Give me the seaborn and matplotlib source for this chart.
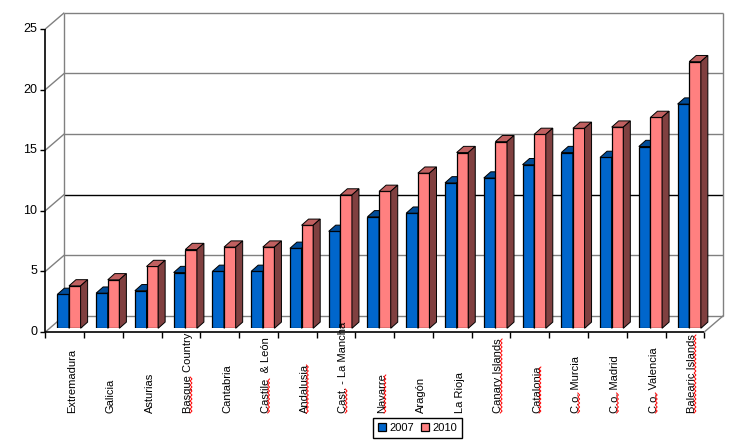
import numpy as np
import pandas as pd
import seaborn as sns
import matplotlib.pyplot as plt
from matplotlib.patches import Polygon, Patch
from matplotlib.lines import Line2D
from matplotlib.transforms import IdentityTransform, blended_transform_factory

regions = ['Extremadura', 'Galicia', 'Asturias', 'Basque Country', 'Cantabria',
           'Castile  & León', 'Andalusia', 'Cast. - La Mancha', 'Navarre', 'Aragón',
           'La Rioja', 'Canary Islands', 'Catalonia', 'C.o. Murcia', 'C.o. Madrid',
           'C.o. Valencia', 'Balearic Islands']
v2007 = [2.8, 2.9, 3.1, 4.6, 4.7, 4.7, 6.6, 8.0, 9.2, 9.5, 12.0, 12.4, 13.5, 14.5, 14.1, 15.0, 18.5]
v2010 = [3.5, 4.0, 5.1, 6.5, 6.7, 6.7, 8.5, 11.0, 11.3, 12.8, 14.5, 15.4, 16.0, 16.5, 16.6, 17.4, 22.0]
years = ['2007', '2010']
yticks = [0, 5, 10, 15, 20, 25]
# words with the red spell-check squiggle in the original
flagged = {'Basque Country': 'Basque', 'Castile  & León': 'Castile', 'Andalusia': 'Andalusia',
           'Cast. - La Mancha': 'Cast.', 'Navarre': 'Navarre', 'Canary Islands': 'Canary Islands',
           'Catalonia': 'Catalonia', 'C.o. Murcia': 'C.o.', 'C.o. Madrid': 'C.o.',
           'C.o. Valencia': 'C.o.', 'Balearic Islands': 'Balearic Islands'}

front_col = {'2007': '#0066CC', '2010': '#FF8080'}
top_col = {'2007': '#004C99', '2010': '#C06060'}
side_col = {'2007': '#003366', '2010': '#804040'}

df = pd.DataFrame({
    'region': regions * 2,
    'year': [years[0]] * len(regions) + [years[1]] * len(regions),
    'value': v2007 + v2010,
})

plt.rcParams['font.family'] = ['Liberation Sans', 'DejaVu Sans']

W, H = 756, 447
fig = plt.figure(figsize=(W / 100, H / 100), dpi=100)
# axes = front plane of the bars
ax = fig.add_axes([49.6 / W, (H - 328.3) / H, 659 / W, 303 / H])

sns.barplot(data=df, x='region', y='value', hue='year', hue_order=years,
            palette=front_col, width=0.6, saturation=1, edgecolor='black',
            linewidth=0.9, legend=False, ax=ax)
n = len(regions)
ax.set_xlim(-0.5, n - 0.5)
ax.set_ylim(0, 25)
ax.axis('off')

# pixel -> data scale
px = n / 659
py = 25 / 303
dx_back, dy_back = 14.7 * px, 12.6 * py      # bar plane -> back wall
dx_front, dy_front = -4.3 * px, -3.7 * py    # bar plane -> front axis
ddx, ddy = 7.0 * px, 6.2 * py                # bar depth

grey = '#808080'
lkw = dict(clip_on=False, zorder=1, solid_capstyle='butt')

# back wall and grid
for v in yticks:
    ax.plot([-0.5 + dx_back, n - 0.5 + dx_back], [v + dy_back] * 2,
            color='black' if v == 10 else grey, lw=1, **lkw)
    # left wall diagonals
    ax.plot([-0.5 + dx_front, -0.5 + dx_back], [v + dy_front, v + dy_back], color=grey, lw=1, **lkw)
    # y ticks and labels
    ax.plot([-0.5 + dx_front - 5 * px, -0.5 + dx_front], [v + dy_front] * 2, color='black', lw=1, **lkw)
    ax.text(-0.5 + dx_front - 8 * px, v + dy_front, str(v), ha='right', va='center', fontsize=9)
for xe in [-0.5, n - 0.5]:
    ax.plot([xe + dx_back] * 2, [dy_back, 25 + dy_back], color=grey, lw=1, **lkw)
# floor right diagonal
ax.plot([n - 0.5 + dx_front, n - 0.5 + dx_back], [dy_front, dy_back], color=grey, lw=1, **lkw)
# front axes
ax.plot([-0.5 + dx_front] * 2, [dy_front, 25 + dy_front], color='black', lw=1.2, **lkw)
ax.plot([-0.5 + dx_front, n - 0.5 + dx_front], [dy_front] * 2, color='black', lw=1.2, **lkw)
for k in range(n + 1):
    ax.plot([k - 0.5 + dx_front] * 2, [dy_front, dy_front - 5.5 * py], color='black', lw=1, **lkw)

# 3D faces for the bars
for j, (year, cont) in enumerate(zip(years, ax.containers)):
    for rect in cont:
        rect.set_zorder(2 + j)
        x0, w, h = rect.get_x(), rect.get_width(), rect.get_height()
        top = [(x0, h), (x0 + w, h), (x0 + w + ddx, h + ddy), (x0 + ddx, h + ddy)]
        side = [(x0 + w, 0), (x0 + w + ddx, ddy), (x0 + w + ddx, h + ddy), (x0 + w, h)]
        ax.add_patch(Polygon(top, closed=True, facecolor=top_col[year], edgecolor='black',
                             lw=0.7, zorder=2.5 + j, clip_on=False))
        ax.add_patch(Polygon(side, closed=True, facecolor=side_col[year], edgecolor='black',
                             lw=0.7, zorder=2.5 + j, clip_on=False))

# category labels
lab_fs = 8
tr = blended_transform_factory(ax.transData, fig.transFigure)
label_texts = []
for i, lab in enumerate(regions):
    t = ax.text(i + 3.1 * px, (H - 413) / H, lab, rotation=90, ha='center', va='bottom',
                fontsize=lab_fs, transform=tr, clip_on=False)
    label_texts.append(t)

# legend
handles = [Patch(facecolor=front_col[y], edgecolor='black', lw=0.9) for y in years]
leg = fig.legend(handles, years, loc='upper left', bbox_to_anchor=(373 / W, 1 - 418 / H),
                 bbox_transform=fig.transFigure, ncol=2, fontsize=8, frameon=True,
                 fancybox=False, framealpha=1, edgecolor='black', borderaxespad=0,
                 handlelength=0.7, handleheight=0.7, handletextpad=0.35,
                 columnspacing=0.6, borderpad=0.45)
leg.get_frame().set_linewidth(1)

# red spell-check squiggles
fig.canvas.draw()
r = fig.canvas.get_renderer()
for lab, t in zip(regions, label_texts):
    word = flagged.get(lab)
    if not word:
        continue
    bb = t.get_window_extent(r)
    tmp = fig.text(0, 0, word, fontsize=lab_fs)
    wlen = tmp.get_window_extent(r).width
    tmp.remove()
    ys = np.arange(bb.y0, bb.y0 + wlen, 2.0)
    xs = bb.x1 - 3.2 + 1.8 * (np.arange(len(ys)) % 2)
    fig.add_artist(Line2D(xs, ys, transform=IdentityTransform(), color='red', lw=0.7))

fig.savefig('out.png', dpi=100)
